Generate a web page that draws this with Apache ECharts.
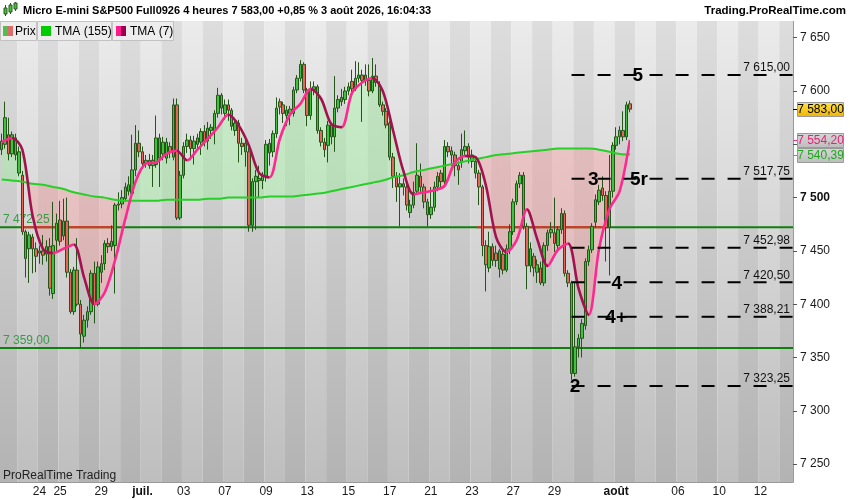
<!DOCTYPE html>
<html><head><meta charset="utf-8">
<script src="https://cdn.jsdelivr.net/npm/echarts@6/dist/echarts.min.js"></script>
<style>html,body{margin:0;padding:0;background:#fff}#c{width:850px;height:500px}</style>
</head><body><div id="c"></div>
<script>
// ---------- DATA ----------
const days = ['22','23','24','25','26','29','30','01','02','03','06','07','08','09','10','13','14','15','16','17','20','21','22','23','24','27','28','29','30','31','03','04','05','06','07','10','11','12','13'];
const dayLabels = ['','','24','25','','29','','juil.','','03','','07','','09','','13','','15','','17','','21','','23','','27','','29','','','août','','','06','','10','','12',''];
const boldLabels = ['juil.','août'];

const openP = [7545,7550,7559,7541,7556,7523,7521,7468,7452,7463,
7452,7448,7450,7447,7454,7410,7460,7479,7464,7478,
7430,7393,7432,7400,7370,7385,7393,7429,7400,7430,
7438,7457,7454,7455,7493,7494,7499,7506,7504,7526,
7551,7543,7532,7535,7530,7531,7556,7541,7537,7548,
7538,7587,7481,7521,7548,7554,7546,7550,7552,7562,
7553,7563,7563,7579,7596,7579,7587,7582,7563,7570,
7551,7551,7543,7474,7515,7518,7516,7520,7542,7543,
7560,7590,7587,7577,7579,7579,7601,7612,7625,7601,
7577,7601,7604,7563,7552,7549,7568,7557,7584,7590,
7592,7600,7609,7602,7612,7615,7610,7610,7600,7614,
7606,7587,7581,7570,7538,7520,7510,7513,7510,7486,
7493,7506,7520,7510,7496,7484,7491,7510,7523,7515,
7548,7544,7540,7530,7533,7544,7548,7534,7534,7523,
7510,7455,7434,7454,7448,7450,7447,7432,7452,7468,
7496,7513,7521,7473,7436,7445,7430,7434,7420,7455,
7467,7467,7455,7470,7485,7429,7420,7335,7360,7368,
7380,7440,7451,7477,7496,7509,7502,7472,7506,7549,
7557,7563,7557,7588];
const highP = [7560,7590,7575,7562,7560,7548,7525,7470,7468,7466,
7458,7455,7465,7460,7462,7496,7485,7497,7499,7500,
7433,7435,7462,7404,7390,7398,7432,7440,7440,7446,
7460,7462,7474,7495,7505,7507,7514,7520,7559,7568,
7563,7548,7540,7541,7540,7577,7560,7557,7556,7552,
7593,7593,7525,7552,7560,7558,7558,7560,7565,7568,
7571,7569,7582,7603,7598,7592,7592,7584,7575,7573,
7556,7555,7547,7518,7526,7530,7524,7554,7555,7563,
7594,7593,7590,7586,7586,7604,7615,7629,7627,7603,
7609,7609,7606,7566,7556,7572,7570,7614,7596,7602,
7604,7608,7620,7628,7627,7620,7625,7625,7631,7625,
7609,7590,7584,7572,7542,7524,7523,7518,7512,7498,
7515,7551,7532,7513,7499,7510,7515,7524,7526,7554,
7552,7548,7543,7534,7560,7563,7551,7545,7537,7526,
7512,7460,7468,7457,7455,7452,7452,7456,7475,7499,
7516,7524,7524,7476,7458,7448,7442,7440,7458,7470,
7477,7500,7473,7490,7488,7432,7422,7420,7372,7386,
7443,7455,7476,7503,7512,7520,7506,7540,7552,7566,
7567,7581,7590,7591];
const lowP = [7540,7546,7535,7538,7535,7520,7465,7425,7420,7429,
7430,7438,7437,7440,7408,7405,7450,7455,7460,7425,
7391,7390,7398,7359,7364,7378,7390,7382,7398,7420,
7432,7448,7450,7410,7488,7490,7496,7502,7500,7520,
7538,7528,7528,7527,7510,7528,7510,7535,7532,7537,
7535,7479,7479,7518,7542,7535,7531,7545,7540,7548,
7545,7555,7550,7575,7578,7573,7572,7563,7558,7533,
7540,7529,7468,7468,7470,7500,7508,7515,7530,7538,
7556,7578,7570,7567,7568,7576,7598,7609,7598,7567,
7573,7596,7560,7548,7538,7533,7550,7543,7580,7586,
7588,7596,7598,7600,7608,7571,7605,7595,7598,7604,
7585,7577,7565,7535,7509,7496,7473,7502,7488,7481,
7490,7503,7505,7490,7473,7480,7487,7506,7509,7512,
7538,7530,7520,7512,7528,7540,7532,7528,7518,7493,
7445,7412,7430,7436,7435,7425,7428,7430,7447,7465,
7493,7509,7470,7414,7430,7426,7420,7418,7417,7450,
7462,7449,7450,7466,7426,7416,7329,7332,7350,7350,
7376,7436,7448,7472,7493,7497,7440,7427,7500,7545,
7550,7553,7554,7580];
const closeP = [7553,7575,7541,7559,7540,7543,7468,7443,7465,7452,
7445,7450,7446,7454,7415,7455,7476,7459,7478,7430,
7393,7432,7400,7372,7385,7393,7429,7400,7435,7438,
7457,7454,7459,7493,7494,7500,7510,7512,7526,7551,
7543,7532,7535,7530,7535,7556,7537,7552,7552,7543,
7587,7481,7521,7548,7554,7546,7553,7556,7562,7553,
7565,7566,7579,7596,7584,7587,7582,7567,7570,7551,
7548,7543,7474,7515,7520,7516,7520,7550,7551,7560,
7584,7585,7579,7582,7583,7601,7612,7625,7601,7577,
7601,7604,7563,7552,7545,7568,7557,7584,7592,7594,
7600,7604,7602,7612,7615,7610,7615,7600,7614,7608,
7587,7581,7568,7538,7520,7510,7513,7510,7493,7493,
7505,7521,7510,7496,7484,7491,7510,7520,7515,7548,
7543,7540,7530,7526,7545,7548,7538,7540,7523,7510,
7455,7437,7454,7441,7441,7433,7432,7452,7468,7496,
7513,7521,7473,7436,7452,7434,7437,7420,7455,7467,
7470,7457,7470,7485,7429,7420,7335,7360,7368,7382,
7440,7451,7473,7498,7507,7502,7472,7506,7549,7557,
7563,7557,7587,7583];

// moving averages sampled every 3 bars (bar 0, 3, ... 183)
const tmaStep = 3;
const tma7 = [7552,7556,7545,7483,7452,7448,7452,7456,7425,7400,
7411,7441,7480,7515,7532,7533,7541,7544,7535,7545,
7555,7566,7578,7568,7549,7523,7519,7555,7578,7588,
7602,7593,7569,7566,7598,7608,7612,7600,7563,7525,
7503,7505,7507,7511,7533,7539,7538,7512,7463,7449,
7460,7489,7461,7436,7451,7457,7415,7390,7452,7489,
7506,7554.2];
const tma155 = [7517,7516,7515,7513,7512,7510,7508,7505,7503,7501,
7500,7498,7497,7497,7497,7497,7498,7498,7498,7498,
7499,7499,7500,7500,7500,7500,7501,7501,7501,7502,
7503,7504,7506,7508,7510,7512,7514,7516,7519,7521,
7524,7526,7528,7530,7532,7534,7536,7538,7540,7541,
7542,7543,7544,7545,7546,7546,7546,7546,7545,7543,
7541,7540.39];

const supports = [7472.25, 7359.00];
const redSegments = [[5.9, 33.5], [138.4, 176.7]];   // bar-index ranges on 7472.25
const levels = [7615.00, 7517.75, 7452.98, 7420.50, 7388.21, 7323.25];
const waveLabels = [['5',185.3,7615.00],['3',172.3,7517.75],['5r',185.6,7517.75],['4',179.2,7420.50],['4+',179.0,7388.21],['2',167.0,7323.25]];
const yTicks = [7250,7300,7350,7400,7450,7500,7550,7600,7650];
const lastPrice = 7583.00, tma7Last = 7554.20, tma155Last = 7540.39;
const headerText = 'Micro E-mini S&P500 Full0926 4 heures 7 583,00 +0,85 % 3 août 2026, 16:04:33';

// ---------- BUILD ----------
const N = 231;
const FONT = '"Liberation Sans", Arial, sans-serif';
const cats = [], labelAt = {}, dayRanges = [];
let idx = 0;
days.forEach((d, di) => {
  const nb = di === 0 ? 5 : 6;
  const start = idx;
  for (let k = 0; k < nb && idx < N; k++) { cats.push(di + '-' + k); idx++; }
  if (start < N) { dayRanges.push([start, idx - 1, di]); if (dayLabels[di]) labelAt[start] = dayLabels[di]; }
});
const candles = openP.map((o, i) => [o, closeP[i], lowP[i], highP[i]]);
const sx = j => j * tmaStep;
const redData = [];
redSegments.forEach((s, k) => {
  if (k > 0) redData.push([(redSegments[k - 1][1] + s[0]) / 2, '-']);
  redData.push([s[0], supports[0]], [s[1], supports[0]]);
});

function fr(v, dec) {
  const s = v.toFixed(dec); const p = s.split('.');
  const a = p[0].replace(/\B(?=(\d{3})+(?!\d))/g, ' ');
  return p[1] ? a + ',' + p[1] : a;
}
const UP = '#ff2890', DOWN = '#a3124f';
const pieces = [];
for (let j = 0; j < tma7.length - 1; j++) {
  const c = tma7[j + 1] >= tma7[j] ? UP : DOWN;
  const last = pieces[pieces.length - 1];
  if (last && last.color === c) last.lt = sx(j + 1);
  else pieces.push({ gte: sx(j), lt: sx(j + 1), color: c });
}
pieces[pieces.length - 1].lte = pieces[pieces.length - 1].lt; delete pieces[pieces.length - 1].lt;

const lightG = () => new echarts.graphic.LinearGradient(0, 0, 0, 1, [{offset:0,color:'#ebebeb'},{offset:1,color:'#bebebe'}]);
const darkG = () => new echarts.graphic.LinearGradient(0, 0, 0, 1, [{offset:0,color:'#dddddd'},{offset:1,color:'#b3b3b3'}]);

function txt(x, y, text, font, fill, align, valign) {
  return { type:'text', x:x, y:y, style:{ text:text, font:font, fill:fill, textAlign:align, align:align, textVerticalAlign:valign, verticalAlign:valign } };
}

const chart = echarts.init(document.getElementById('c'));
chart.setOption({
  animation: false,
  backgroundColor: '#ffffff',
  grid: { left: -2, right: 57, top: 21, bottom: 18 },
  xAxis: [
    { type:'category', data: cats, boundaryGap: true,
      axisLine: { show:true, onZero:false, lineStyle:{ color:'#9a9a9a', width:1 } },
      axisTick: { show:false }, splitLine: { show:false },
      axisLabel: { interval: (i) => labelAt[i] !== undefined, margin: 4, fontSize: 12, fontFamily: FONT, color:'#1a1a1a',
        formatter: (v, i) => { const t = labelAt[i] || ''; return boldLabels.indexOf(t) >= 0 ? '{b|' + t + '}' : t; },
        rich: { b: { fontWeight:'bold', fontSize:12, fontFamily: FONT, color:'#111' } } } },
    { type:'value', min: -0.5, max: N - 0.5, show: false, axisLine:{ onZero:false } }
  ],
  yAxis: { type:'value', position:'right', min: 7233.2, max: 7665.7, scale: true,
    splitLine: { show:false },
    axisLine: { show:true, onZero:false, lineStyle:{ color:'#9a9a9a' } },
    axisTick: { show:true, customValues: yTicks, length: 4, lineStyle:{ color:'#555' } },
    axisLabel: { customValues: yTicks, margin: 7, fontSize: 12, fontFamily: FONT, color:'#1a1a1a',
      formatter: v => v === 7500 ? '{b|' + fr(v, 0) + '}' : fr(v, 0),
      rich: { b: { fontWeight:'bold', fontSize:12, fontFamily: FONT, color:'#111' } } } },
  visualMap: [{ type:'piecewise', show:false, seriesIndex: 6, dimension: 0, pieces: pieces }],
  series: [
    { type:'custom', name:'days', xAxisIndex:1, yAxisIndex:0, z:0, silent:true, clip:true,
      data: dayRanges.map((r, i) => [r[0], 7500]),
      renderItem: (params, api) => {
        const r = dayRanges[params.dataIndex]; const cs = params.coordSys;
        const xa = api.coord([r[0] - 0.5, 7500])[0], xb = api.coord([r[1] + 0.5, 7500])[0];
        return { type:'rect', shape:{ x:xa, y:cs.y, width:xb - xa, height:cs.height }, style:{ fill: r[2] % 2 === 0 ? darkG() : lightG() } };
      } },
    { type:'custom', name:'fill', xAxisIndex:1, yAxisIndex:0, z:1, silent:true, clip:true,
      data: tma7.slice(0, -1).map((v, j) => [sx(j), v]),
      renderItem: (params, api) => {
        const j = params.dataIndex;
        const x1 = sx(j), x2 = sx(j + 1);
        const a1 = tma7[j] - tma155[j], a2 = tma7[j + 1] - tma155[j + 1];
        const G = 'rgba(150,250,150,0.36)', R = 'rgba(255,150,150,0.36)';
        const P = (x, y) => api.coord([x, y]);
        const kids = [];
        if (a1 * a2 >= 0) {
          kids.push({ type:'polygon', shape:{ points:[P(x1,tma7[j]),P(x2,tma7[j+1]),P(x2,tma155[j+1]),P(x1,tma155[j])] }, style:{ fill:(a1 + a2) >= 0 ? G : R } });
        } else {
          const f = a1 / (a1 - a2);
          const xc = x1 + f * (x2 - x1), yc = tma7[j] + f * (tma7[j + 1] - tma7[j]);
          kids.push({ type:'polygon', shape:{ points:[P(x1,tma7[j]),P(xc,yc),P(x1,tma155[j])] }, style:{ fill: a1 >= 0 ? G : R } });
          kids.push({ type:'polygon', shape:{ points:[P(xc,yc),P(x2,tma7[j+1]),P(x2,tma155[j+1])] }, style:{ fill: a2 >= 0 ? G : R } });
        }
        return { type:'group', children: kids };
      } },
    { type:'custom', name:'supports', xAxisIndex:1, yAxisIndex:0, z:1, silent:true, clip:true,
      data: supports.map(p => [0, p]),
      renderItem: (params, api) => {
        const p = supports[params.dataIndex];
        const a = api.coord([-0.5, p]), b = api.coord([N - 0.5, p]);
        return { type:'group', children: [
          { type:'line', shape:{ x1:a[0], y1:a[1], x2:b[0], y2:b[1] }, style:{ stroke:'#0f7f0f', lineWidth:2 } },
          txt(3, a[1] - 1.5, fr(p, 2), '12px ' + FONT, '#3a9a4a', 'left', 'bottom')
        ] };
      } },
    { type:'line', name:'redSeg', xAxisIndex:1, yAxisIndex:0, z:1, silent:true, showSymbol:false, connectNulls:false,
      data: redData, lineStyle:{ color:'#ee2a2a', width:2 } },
    { type:'candlestick', name:'Prix', xAxisIndex:0, yAxisIndex:0, z:2, data: candles, barWidth: 3, silent:true,
      itemStyle: { color:'#3fc23f', color0:'#e8655d', borderColor:'#24561a', borderColor0:'#24561a', borderWidth:1 } },
    { type:'line', name:'TMA (155)', xAxisIndex:1, yAxisIndex:0, z:3, silent:true, smooth:0.3, showSymbol:false,
      data: tma155.map((v, j) => [sx(j), v]), lineStyle:{ color:'#26d026', width:2 } },
    { type:'line', name:'TMA (7)', xAxisIndex:1, yAxisIndex:0, z:3, silent:true, smooth:0.3, showSymbol:false,
      data: tma7.map((v, j) => [sx(j), v]), lineStyle:{ width:2.6 } },
    { type:'custom', name:'levels', xAxisIndex:1, yAxisIndex:0, z:4, silent:true, clip:false,
      data: levels.map(p => [166, p]),
      renderItem: (params, api) => {
        const p = levels[params.dataIndex];
        const a = api.coord([166, p]), b = api.coord([N - 0.5, p]);
        return { type:'group', children:[
          { type:'line', shape:{ x1:a[0], y1:a[1], x2:b[0], y2:b[1] }, style:{ stroke:'#000', lineWidth:2, lineDash:[13,13] } },
          txt(b[0] - 3, a[1] - 1, fr(p, 2), '12px ' + FONT, '#111', 'right', 'bottom')
        ] };
      } },
    { type:'custom', name:'waves', xAxisIndex:1, yAxisIndex:0, z:5, silent:true, clip:false,
      data: waveLabels.map(w => [w[1], w[2]]),
      renderItem: (params, api) => {
        const w = waveLabels[params.dataIndex];
        const a = api.coord([w[1], w[2]]);
        return txt(a[0], a[1] + 1, w[0], 'bold 19px ' + FONT, '#000', 'center', 'middle');
      } }
  ]
});

// ---------- static decorations + value tags ----------
function yTag(v, bg, color, tick) {
  const y = Math.round(chart.convertToPixel({ yAxisIndex: 0 }, v));
  return [
    { type:'rect', z:100, shape:{ x:797.5, y:y - 6.5, width:46, height:14 }, style:{ fill:bg, stroke:'#9a9a9a', lineWidth:1 } },
    Object.assign(txt(820.5, y + 0.5, fr(v, 2), '12px ' + FONT, color, 'center', 'middle'), { z:101 }),
    { type:'line', z:101, shape:{ x1:793, y1:y + 0.5, x2:797, y2:y + 0.5 }, style:{ stroke:tick, lineWidth:1 } }
  ];
}
const gold = new echarts.graphic.LinearGradient(0, 0, 0, 1, [{offset:0,color:'#ffe24a'},{offset:1,color:'#f0b400'}]);
const grayTag = new echarts.graphic.LinearGradient(0, 0, 0, 1, [{offset:0,color:'#d6d6d6'},{offset:1,color:'#bdbdbd'}]);
const deco = [
  { type:'rect', z:90, shape:{ x:0, y:0, width:850, height:21 }, style:{ fill:'#ffffff' } },
  { type:'line', z:91, shape:{ x1:5.5, y1:5, x2:5.5, y2:16 }, style:{ stroke:'#2a5a1a', lineWidth:1 } },
  { type:'rect', z:92, shape:{ x:4, y:8, width:3, height:6 }, style:{ fill:'#3fc23f', stroke:'#2a5a1a', lineWidth:1 } },
  { type:'line', z:91, shape:{ x1:10.5, y1:3, x2:10.5, y2:14 }, style:{ stroke:'#2a5a1a', lineWidth:1 } },
  { type:'rect', z:92, shape:{ x:9, y:5, width:3, height:7 }, style:{ fill:'#3fc23f', stroke:'#2a5a1a', lineWidth:1 } },
  { type:'line', z:91, shape:{ x1:15.5, y1:2, x2:15.5, y2:11 }, style:{ stroke:'#2a5a1a', lineWidth:1 } },
  { type:'rect', z:92, shape:{ x:14, y:3, width:3, height:6 }, style:{ fill:'#3fc23f', stroke:'#2a5a1a', lineWidth:1 } },
  Object.assign(txt(23, 11, headerText, 'bold 11px ' + FONT, '#000', 'left', 'middle'), { z:93 }),
  Object.assign(txt(846, 11, 'Trading.ProRealTime.com', 'bold 11.5px ' + FONT, '#000', 'right', 'middle'), { z:93 }),
  // legend
  { type:'rect', z:94, shape:{ x:0.5, y:21.5, width:36, height:19 }, style:{ fill:'#ededed', stroke:'#c2c2c2', lineWidth:1 } },
  { type:'rect', z:95, shape:{ x:3, y:26, width:5, height:10 }, style:{ fill:'#4fbf4f' } },
  { type:'rect', z:95, shape:{ x:8, y:26, width:5, height:10 }, style:{ fill:'#e06a6a' } },
  Object.assign(txt(15, 31.5, 'Prix', '12px ' + FONT, '#000', 'left', 'middle'), { z:96 }),
  { type:'rect', z:94, shape:{ x:37.5, y:21.5, width:74, height:19 }, style:{ fill:'#ededed', stroke:'#c2c2c2', lineWidth:1 } },
  { type:'rect', z:95, shape:{ x:41, y:26, width:10, height:10 }, style:{ fill:'#00cc00' } },
  Object.assign(txt(55, 31.5, 'TMA (155)', '12px ' + FONT, '#000', 'left', 'middle'), { z:96 }),
  { type:'rect', z:94, shape:{ x:112.5, y:21.5, width:61, height:19 }, style:{ fill:'#ededed', stroke:'#c2c2c2', lineWidth:1 } },
  { type:'rect', z:95, shape:{ x:116, y:26, width:5, height:10 }, style:{ fill:'#ff1a8c' } },
  { type:'rect', z:95, shape:{ x:121, y:26, width:5, height:10 }, style:{ fill:'#99004d' } },
  Object.assign(txt(130, 31.5, 'TMA (7)', '12px ' + FONT, '#000', 'left', 'middle'), { z:96 }),
  Object.assign(txt(3, 476, 'ProRealTime Trading', '12px ' + FONT, '#222', 'left', 'middle'), { z:96 })
];
chart.setOption({ graphic: { elements: deco
  .concat(yTag(lastPrice, gold, '#000', '#000'))
  .concat(yTag(tma7Last, grayTag, '#e8207a', '#ff2890'))
  .concat(yTag(tma155Last, grayTag, '#1ea81e', '#26d026')) } });
</script>
</body></html>
